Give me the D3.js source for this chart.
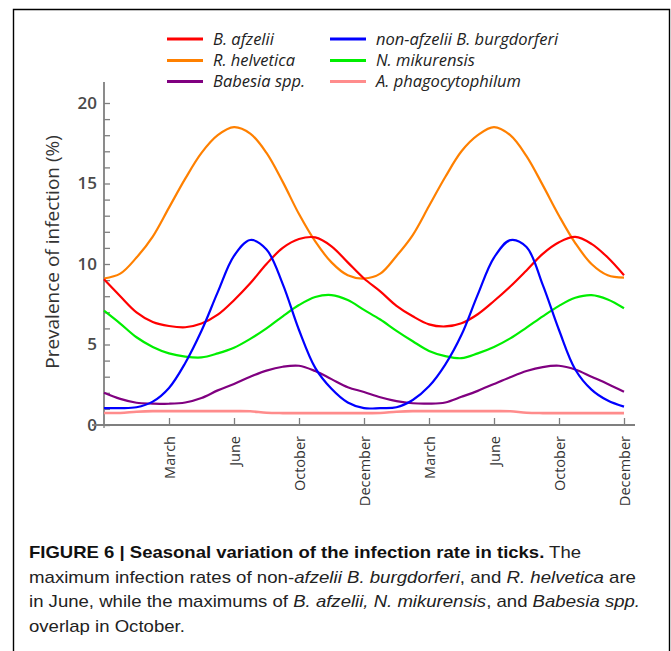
<!DOCTYPE html>
<html>
<head>
<meta charset="utf-8">
<script src="https://cdn.jsdelivr.net/npm/d3@7"></script>
<style>
  html, body { margin: 0; padding: 0; background: #fff; }
  svg { display: block; }
</style>
</head>
<body>
<svg id="chart" width="671" height="651"></svg>
<script>
// ---- data ----
const timeIndex = [0,0.25,0.5,0.75,1,1.25,1.5,1.75,2,2.25,2.5,2.75,3,3.25,3.5,3.75,4,
                   4.25,4.5,4.75,5,5.25,5.5,5.75,6,6.25,6.5,6.75,7,7.25,7.5,7.75,8];
const monthTicks = [1,2,3,4,5,6,7,8];
const monthLabels = ["March","June","October","December","March","June","October","December"];
const yTickValues = [0,1,2,3,4,5,6,7,8,9,10,11,12,13,14,15,16,17,18,19,20];

const seriesNames = ["B. afzelii","non-afzelii B. burgdorferi","R. helvetica","N. mikurensis","Babesia spp.","A. phagocytophilum"];
const seriesColors = ["#ff0000","#0000ff","#ff8000","#00ee00","#800080","#ff8c8c"];

const afzelii = [9.05,8.0,7.0,6.4,6.15,6.07,6.3,6.85,7.75,8.8,10.0,11.0,11.55,11.65,11.1,10.1,9.1,
                 8.3,7.4,6.75,6.25,6.12,6.32,6.88,7.7,8.6,9.6,10.63,11.35,11.68,11.25,10.4,9.3];
const burgdorferi = [1.05,1.05,1.1,1.45,2.3,3.85,5.85,8.25,10.5,11.49,10.9,8.75,5.9,3.55,2.25,1.4,1.05,
                     1.05,1.1,1.55,2.4,3.75,5.6,8.1,10.4,11.48,11.05,8.7,5.9,3.45,2.2,1.52,1.14];
const helvetica = [9.1,9.4,10.4,11.7,13.5,15.3,16.9,18.0,18.5,18.1,16.9,15.1,13.1,11.4,10.1,9.3,9.1,
                   9.4,10.5,11.8,13.6,15.4,17.0,18.0,18.5,18.0,16.7,14.9,13.0,11.3,10.0,9.3,9.15];
const mikurensis = [7.1,6.3,5.45,4.85,4.45,4.25,4.2,4.45,4.8,5.35,6.0,6.75,7.45,7.95,8.07,7.76,7.15,
                    6.55,5.85,5.2,4.6,4.28,4.15,4.45,4.85,5.38,6.05,6.75,7.4,7.9,8.07,7.8,7.25];
const babesia = [2.0,1.62,1.38,1.33,1.32,1.4,1.68,2.15,2.55,3.0,3.38,3.62,3.68,3.35,2.85,2.35,2.05,
                 1.72,1.48,1.35,1.33,1.4,1.75,2.12,2.55,2.97,3.35,3.6,3.68,3.45,3.0,2.55,2.07];
const phagocytophilum = [0.75,0.75,0.82,0.86,0.86,0.86,0.86,0.86,0.86,0.85,0.76,0.74,0.74,0.74,0.74,0.74,0.74,
                         0.75,0.82,0.86,0.86,0.86,0.86,0.86,0.86,0.85,0.76,0.74,0.74,0.74,0.74,0.74,0.74];

const seriesValues = [afzelii, burgdorferi, helvetica, mikurensis, babesia, phagocytophilum];
// drawing order (back to front)
const drawOrder = [5,4,3,2,0,1];

// ---- layout ----
const svg = d3.select("#chart");
const x = d3.scaleLinear().domain([0, 8]).range([104, 624]);
const y = d3.scaleLinear().domain([0, 20]).range([425, 103]);

// frame around figure
svg.append("path")
  .attr("d", "M13.5,651 V9.5 H669.5 V651")
  .attr("fill", "none").attr("stroke", "#000").attr("stroke-width", 1.4);

const axisColor = "#7f7f7f";

// Y axis
const yAxis = d3.axisLeft(y).tickValues(yTickValues)
  .tickSizeInner(-6).tickSizeOuter(0).tickPadding(7)
  .tickFormat(d => d % 5 === 0 ? d : "");
const gy = svg.append("g").attr("transform", "translate(104,0)").call(yAxis);
gy.select(".domain").remove();
gy.selectAll(".tick line").attr("stroke", axisColor).attr("stroke-width", 1.3);
gy.selectAll(".tick text")
  .attr("font-family", "'Open Sans', sans-serif").attr("font-size", 17)
  .attr("fill", "#4a4a4a").attr("font-weight", 600);
svg.append("line").attr("x1", 104).attr("x2", 104).attr("y1", 82).attr("y2", y(0))
  .attr("stroke", axisColor).attr("stroke-width", 1.8);

// X axis
const xAxis = d3.axisBottom(x).tickValues(monthTicks)
  .tickSizeInner(-7).tickSizeOuter(0)
  .tickFormat((d, i) => monthLabels[i]);
const gx = svg.append("g").attr("transform", `translate(0,${y(0)})`).call(xAxis);
gx.select(".domain").remove();
gx.selectAll(".tick line").attr("stroke", axisColor).attr("stroke-width", 1.3);
gx.selectAll(".tick text")
  .attr("transform", "rotate(-90)")
  .attr("x", -11).attr("y", 0).attr("dy", "0.35em")
  .attr("text-anchor", "end")
  .attr("font-family", "'Open Sans', sans-serif").attr("font-size", 14.5)
  .attr("fill", "#333");
svg.append("line").attr("x1", 92).attr("x2", 635).attr("y1", y(0)).attr("y2", y(0))
  .attr("stroke", axisColor).attr("stroke-width", 1.8);
svg.append("line").attr("x1", 104).attr("x2", 104).attr("y1", y(0)).attr("y2", y(0) + 3)
  .attr("stroke", axisColor).attr("stroke-width", 1.3);

// Y title
svg.append("text")
  .attr("transform", `translate(52,${(137 + 367) / 2}) rotate(-90)`)
  .attr("text-anchor", "middle").attr("dominant-baseline", "central")
  .attr("font-family", "'Open Sans', sans-serif").attr("font-size", 19)
  .attr("fill", "#333")
  .text("Prevalence of infection (%)");

// lines
const line = d3.line()
  .x((d, i) => x(timeIndex[i]))
  .y(d => y(d))
  .curve(d3.curveCatmullRom.alpha(0.5));

svg.append("g").selectAll("path").data(drawOrder).join("path")
  .attr("d", k => line(seriesValues[k]))
  .attr("fill", "none")
  .attr("stroke", k => seriesColors[k])
  .attr("stroke-width", k => k === 5 ? 2.6 : 2.2)
  .attr("stroke-linejoin", "round");

// legend
const legendPos = [
  {lx: 167, ly: 39}, {lx: 330, ly: 39},
  {lx: 167, ly: 60.5}, {lx: 330, ly: 60.5},
  {lx: 167, ly: 81.5}, {lx: 330, ly: 81.5}
];
const legendOrder = [0, 1, 2, 3, 4, 5];
const lg = svg.append("g").selectAll("g").data(legendOrder).join("g")
  .attr("transform", (k, i) => `translate(${legendPos[i].lx},${legendPos[i].ly})`);
lg.append("line").attr("x1", 0).attr("x2", 36).attr("y1", 0).attr("y2", 0)
  .attr("stroke", k => seriesColors[k]).attr("stroke-width", 3);
lg.append("text").attr("x", 46).attr("y", 0).attr("dy", "0.35em")
  .attr("font-family", "'Open Sans', sans-serif").attr("font-style", "italic")
  .attr("font-size", 16.5).attr("fill", "#222")
  .text(k => seriesNames[k]);

// caption
const captionLines = [
  {y: 558, w: 552, parts: [["FIGURE 6 | Seasonal variation of the infection rate in ticks.", "bold"], [" The", "normal"]]},
  {y: 582.5, w: 607, parts: [["maximum infection rates of non-", "normal"], ["afzelii B. burgdorferi", "italic"], [", and ", "normal"], ["R. helvetica", "italic"], [" are", "normal"]]},
  {y: 607, w: 611, parts: [["in June, while the maximums of ", "normal"], ["B. afzelii, N. mikurensis", "italic"], [", and ", "normal"], ["Babesia spp.", "italic"]]},
  {y: 631.5, w: null, parts: [["overlap in October.", "normal"]]}
];
const cap = svg.append("g");
let factor = 1;
captionLines.forEach((l, idx) => {
  const t = cap.append("text").attr("x", 29).attr("y", l.y)
    .attr("font-family", "'Liberation Sans Narrow', 'Liberation Sans', Arial, sans-serif")
    .attr("font-size", 17).attr("fill", "#222");
  l.parts.forEach(p => {
    t.append("tspan")
      .attr("font-weight", p[1] === "bold" ? "bold" : "normal")
      .attr("font-style", p[1] === "italic" ? "italic" : "normal")
      .attr("fill", p[1] === "bold" ? "#111" : "#222")
      .text(p[0]);
  });
  const natural = t.node().getComputedTextLength();
  if (l.w) {
    if (idx === 2) factor = l.w / natural;
    t.attr("textLength", l.w).attr("lengthAdjust", "spacingAndGlyphs");
  } else {
    t.attr("textLength", natural * factor).attr("lengthAdjust", "spacingAndGlyphs");
  }
});
</script>
</body>
</html>
